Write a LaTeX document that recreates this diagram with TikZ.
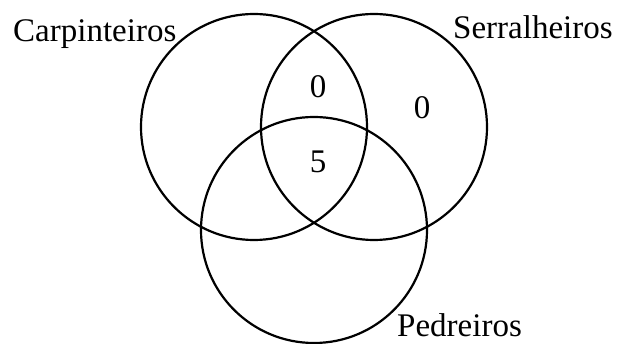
\documentclass[tikz,border=0pt]{standalone}
\usepackage{fontspec}
\setmainfont{Liberation Serif}
\usetikzlibrary{positioning, calc, shapes}

\begin{document}
\begin{tikzpicture}[x=1pt, y=-1pt,
        conjunto/.style={draw, circle, line width=2.2pt, minimum size=226pt, inner sep=0pt},
        rotulo/.style={inner sep=0pt, font=\fontsize{33}{36}\selectfont},
        numero/.style={inner sep=0pt, font=\fontsize{33}{36}\selectfont}]
        \useasboundingbox (0,0) rectangle (622,344);

        % Os tres conjuntos
        \node[conjunto] (carp) at (254,127) {};
        \node[conjunto] (serr) at (374,127) {};
        \node[conjunto] (pedr) at (314,230) {};

        % Nomes dos conjuntos
        \node[rotulo, anchor=base west] (ncarp) at (13,42) {Carpinteiros};
        \node[rotulo, anchor=base west] (nserr) at (453,39) {Serralheiros};
        \node[rotulo, anchor=base west] (npedr) at (397,337) {Pedreiros};

        % Quantidades
        \node[numero] (cs) at (318,87) {0};
        \node[numero] (s) at (422,108) {0};
        \node[numero] (csp) at (318,162) {5};
\end{tikzpicture}
\end{document}
